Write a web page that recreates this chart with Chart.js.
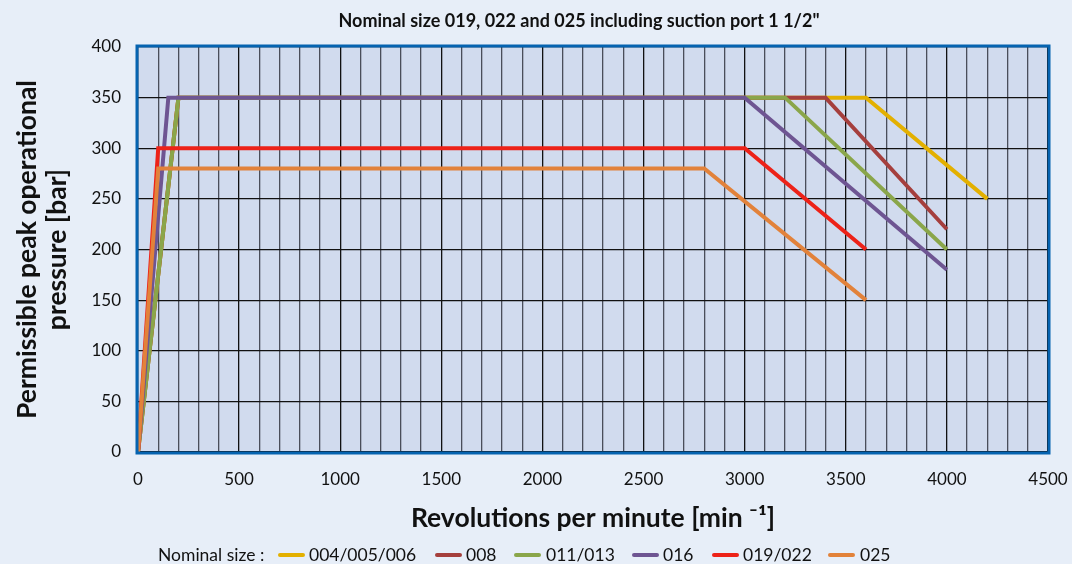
<!DOCTYPE html>
<html>
<head>
<meta charset="utf-8">
<script src="https://cdn.jsdelivr.net/npm/chart.js@4"></script>
<style>
  html, body { margin:0; padding:0; background:#e7eef8; }
  #wrap { position:relative; width:1072px; height:564px; }
  canvas { position:absolute; left:0; top:0; }
  #legend { position:absolute; left:0; top:0; width:1072px; height:564px; pointer-events:none; font-family:Lato, "Open Sans", sans-serif; font-size:17.5px; color:#111; }
  #legend span { position:absolute; white-space:nowrap; line-height:20px; }
  #legend .sw { height:4px; width:27px; border-radius:2px; }
</style>
</head>
<body>
<div id="wrap">
  <canvas id="c" width="1072" height="564"></canvas>
  <div id="legend"></div>
</div>
<script>
const chartTitle = 'Nominal size 019, 022 and 025 including suction port 1 1/2"';
const seriesNames = ['004/005/006', '008', '011/013', '016', '019/022', '025'];
const seriesColors = ['#e3b000', '#a53f3d', '#8aa64a', '#6e5592', '#ed2218', '#e2823a'];
const rpm004 = [0, 200, 3600, 4200];
const bar004 = [0, 350, 350, 250];
const rpm008 = [0, 200, 3400, 4000];
const bar008 = [0, 350, 350, 220];
const rpm011 = [0, 200, 3200, 4000];
const bar011 = [0, 350, 350, 200];
const rpm016 = [0, 150, 3000, 4000];
const bar016 = [0, 350, 350, 180];
const rpm019 = [0, 100, 3000, 3600];
const bar019 = [0, 300, 300, 200];
const rpm025 = [0, 100, 2800, 3600];
const bar025 = [0, 280, 280, 150];
const xTickLabels = [0, 500, 1000, 1500, 2000, 2500, 3000, 3500, 4000, 4500];
const yTickLabels = [0, 50, 100, 150, 200, 250, 300, 350, 400];

const rpmSets = [rpm004, rpm008, rpm011, rpm016, rpm019, rpm025];
const barSets = [bar004, bar008, bar011, bar016, bar019, bar025];

const datasets = seriesNames.map((name, i) => ({
  label: name,
  data: rpmSets[i].map((x, j) => ({ x: x, y: barSets[i][j] })),
  borderColor: seriesColors[i],
  backgroundColor: seriesColors[i],
  borderWidth: 4,
  pointRadius: 0,
  fill: false,
  tension: 0,
  order: seriesNames.length - i
}));

const FONT = 'Lato, "Open Sans", sans-serif';

const bgPlugin = {
  id: 'bg',
  beforeDraw(chart) {
    const { ctx, chartArea: a } = chart;
    ctx.save();
    ctx.fillStyle = '#e7eef8';
    ctx.fillRect(0, 0, chart.width, chart.height);
    ctx.fillStyle = '#d1dbee';
    ctx.fillRect(a.left, a.top, a.right - a.left, a.bottom - a.top);
    ctx.restore();
  },
  afterDraw(chart) {
    const { ctx, chartArea: a } = chart;
    ctx.save();
    ctx.strokeStyle = '#0563b0';
    ctx.lineWidth = 3;
    ctx.strokeRect(a.left - 1, a.top - 1, a.right - a.left + 2, a.bottom - a.top + 2);
    ctx.fillStyle = '#111';
    ctx.font = 'bold 18px ' + FONT;
    ctx.textAlign = 'center';
    ctx.textBaseline = 'middle';
    ctx.fillText(chartTitle, 579, 21);
    ctx.restore();
  }
};

new Chart(document.getElementById('c'), {
  type: 'line',
  data: { datasets },
  options: {
    responsive: false,
    animation: false,
    devicePixelRatio: 1,
    layout: { padding: { left: 6, right: 24, top: 47, bottom: 30 } },
    plugins: {
      legend: { display: false },
      tooltip: { enabled: false },
      title: { display: false }
    },
    scales: {
      x: {
        type: 'linear',
        min: 0, max: 4500,
        grid: {
          color: (c) => (c.tick && c.tick.value % 500 === 0) ? '#111' : '#4a4e5a',
          lineWidth: 1.3,
          drawTicks: false
        },
        border: { display: false },
        ticks: {
          stepSize: 100,
          autoSkip: false,
          maxRotation: 0,
          padding: 17,
          color: '#111',
          font: { family: FONT, size: 17 },
          callback: (v) => xTickLabels.includes(v) ? String(v) : ''
        },
        title: {
          display: true,
          text: 'Revolutions per minute [min \u207B\u00B9]',
          color: '#111',
          font: { family: FONT, size: 26.5, weight: 'bold' },
          padding: { top: 0, bottom: 0 }
        },
        afterFit(s) { s.height = 82; s.paddingLeft = 0; s.paddingRight = 0; }
      },
      y: {
        type: 'linear',
        min: 0, max: 400,
        grid: { color: '#111', lineWidth: 1.2, drawTicks: false },
        border: { display: false },
        ticks: {
          stepSize: 50,
          padding: 17,
          color: '#111',
          font: { family: FONT, size: 17 },
          callback: (v) => yTickLabels.includes(v) ? String(v) : ''
        },
        title: {
          display: true,
          text: ['Permissible peak operational', 'pressure [bar]'],
          color: '#111',
          font: { family: FONT, size: 26.5, weight: 'bold', lineHeight: 1.15 },
          padding: { top: 6, bottom: 0 }
        },
        afterFit(s) { s.width = 132; s.paddingTop = 0; s.paddingBottom = 0; }
      }
    }
  },
  plugins: [bgPlugin]
});

const legendLabelX = 158;
const swatchX = [278, 435, 514, 632, 712, 828];
const legendTextX = [309, 466, 546, 663, 743, 860];
const legendY = 555;
const lg = document.getElementById('legend');
function addSpan(cls, text, x, y) {
  const s = document.createElement('span');
  if (cls) s.className = cls;
  if (text) s.textContent = text;
  s.style.left = x + 'px';
  s.style.top = y + 'px';
  lg.appendChild(s);
  return s;
}
addSpan('', 'Nominal size :', legendLabelX, legendY - 10);
seriesNames.forEach((n, i) => {
  const sw = addSpan('sw', '', swatchX[i], legendY - 2);
  sw.style.background = seriesColors[i];
  addSpan('', n, legendTextX[i], legendY - 10);
});
</script>
</body>
</html>
